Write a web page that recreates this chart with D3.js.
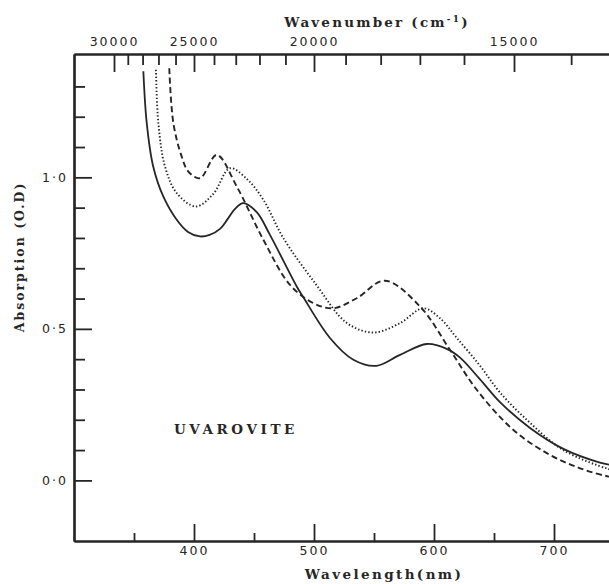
<!DOCTYPE html>
<html>
<head>
<meta charset="utf-8">
<script src="https://cdn.jsdelivr.net/npm/d3@7"></script>
<style>
  body { margin: 0; background: #fff; }
  svg { display: block; }
</style>
</head>
<body>
<div id="chart"></div>
<script>
// spectra: wavelength (nm) and absorption (O.D)
const solidWl  = [357.8, 360.6, 366, 374.4, 385.6, 395, 405, 413, 421.7, 428, 434, 441, 452.3, 463.3, 485.6, 491, 513.3, 532.8, 552, 571.7, 594, 610.6, 621.7, 638, 655, 680, 707.8, 738.3, 760];
const solidAbs = [1.35, 1.18, 1.036, 0.937, 0.86, 0.82, 0.805, 0.81, 0.83, 0.862, 0.895, 0.915, 0.885, 0.81, 0.64, 0.605, 0.47, 0.398, 0.378, 0.414, 0.45, 0.434, 0.405, 0.335, 0.258, 0.173, 0.104, 0.059, 0.042];

const dottedWl  = [368.3, 370.3, 375.8, 385.6, 401.7, 416, 430, 444, 457.8, 474.4, 502, 527.2, 549.4, 571.7, 591, 605, 619, 638, 655, 680, 707.8, 745.8, 760];
const dottedAbs = [1.355, 1.179, 1.036, 0.948, 0.904, 0.945, 1.03, 0.995, 0.926, 0.8, 0.645, 0.52, 0.488, 0.519, 0.568, 0.535, 0.47, 0.38, 0.29, 0.19, 0.1, 0.037, 0.025];

const dashedWl  = [379.4, 382.8, 389.7, 395.3, 405, 418.9, 435.6, 457.8, 480, 499.4, 515.8, 535.6, 559, 588.3, 613.3, 635.6, 666, 694, 721.7, 745.8, 760];
const dashedAbs = [1.36, 1.179, 1.069, 1.019, 0.997, 1.074, 0.97, 0.794, 0.645, 0.585, 0.568, 0.601, 0.659, 0.574, 0.431, 0.299, 0.167, 0.09, 0.04, 0.0125, 0.005];

const wlMajor = [400, 500, 600, 700];
const wlMinor = [350, 450, 550, 650, 750];
const wnMajor = [30000, 25000, 20000, 15000];
const wnMinor = [29000, 28000, 27000, 26000, 24000, 23000, 22000, 21000, 19000, 18000, 17000, 16000, 14000, 13000];
const absMajor = [0, 0.5, 1.0];
const absMinor = [0.1, 0.2, 0.3, 0.4, 0.6, 0.7, 0.8, 0.9, 1.1, 1.2, 1.3];

const W = 609, H = 584;
const ink = "#262626";
const slab = "'DejaVu Serif', serif";
const sans = "'DejaVu Sans', sans-serif";

const svg = d3.select("#chart").append("svg")
  .attr("width", W)
  .attr("height", H);

const x = d3.scaleLinear().domain([300, 800]).range([74, 674]);
const y = d3.scaleLinear().domain([-0.2, 1.407]).range([541, 54]);

const fmtAbs = d => d3.format(".1f")(d).replace(".", "·");

// bottom axis (wavelength)
svg.append("g")
  .attr("transform", "translate(0," + y(-0.2) + ")")
  .call(d3.axisBottom(x).tickValues(wlMinor).tickSizeInner(-8).tickSizeOuter(0).tickFormat(""));
svg.append("g")
  .attr("class", "lab")
  .attr("transform", "translate(0," + y(-0.2) + ")")
  .call(d3.axisBottom(x).tickValues(wlMajor).tickSizeInner(-17).tickSizeOuter(0).tickPadding(5));

// top axis (wavenumber), placed through wavelength = 1e7 / wavenumber
svg.append("g")
  .attr("transform", "translate(0," + y(1.407) + ")")
  .call(d3.axisTop(x).tickValues(wnMinor.map(d => 1e7 / d)).tickSizeInner(-11).tickSizeOuter(0).tickFormat(""));
svg.append("g")
  .attr("class", "lab")
  .attr("transform", "translate(0," + y(1.407) + ")")
  .call(d3.axisTop(x).tickValues(wnMajor.map(d => 1e7 / d)).tickSizeInner(-18).tickSizeOuter(0).tickPadding(8)
    .tickFormat(d => Math.round(1e7 / d)));

// left axis (absorption)
svg.append("g")
  .attr("transform", "translate(" + x(300) + ",0)")
  .call(d3.axisLeft(y).tickValues(absMinor).tickSizeInner(-11).tickSizeOuter(0).tickFormat(""));
svg.append("g")
  .attr("class", "lab")
  .attr("transform", "translate(" + x(300) + ",0)")
  .call(d3.axisLeft(y).tickValues(absMajor).tickSizeInner(-18).tickSizeOuter(0).tickPadding(6).tickFormat(fmtAbs));

svg.selectAll(".domain").attr("stroke", ink).attr("stroke-width", 2.2);
svg.selectAll(".tick line").attr("stroke", ink).attr("stroke-width", 1.8);
svg.selectAll(".lab text")
  .attr("fill", ink)
  .style("font-family", sans)
  .style("font-size", "12.5px")
  .style("letter-spacing", "2px");

// curves
const line = d3.line()
  .x(d => x(d[0]))
  .y(d => y(d[1]))
  .curve(d3.curveCatmullRom.alpha(0.5));

const series = [
  {wl: solidWl, abs: solidAbs, dash: null, w: 1.8},
  {wl: dottedWl, abs: dottedAbs, dash: "1.4,2.1", w: 1.9},
  {wl: dashedWl, abs: dashedAbs, dash: "6,3.5", w: 1.9}
];

series.forEach(s => {
  svg.append("path")
    .datum(s.wl.map((v, i) => [v, s.abs[i]]))
    .attr("d", line)
    .attr("fill", "none")
    .attr("stroke", ink)
    .attr("stroke-width", s.w)
    .attr("stroke-dasharray", s.dash);
});

// titles
svg.append("text")
  .attr("x", 377)
  .attr("y", 27)
  .attr("text-anchor", "middle")
  .attr("fill", ink)
  .style("font-family", slab)
  .style("font-weight", "bold")
  .style("font-size", "13.5px")
  .style("letter-spacing", "2.2px")
  .text("Wavenumber (cm")
  .append("tspan")
    .attr("dy", -5)
    .style("font-size", "9px")
    .text("-1")
  .select(function() { return this.parentNode; })
  .append("tspan")
    .attr("dy", 5)
    .text(")");

svg.append("text")
  .attr("x", 384)
  .attr("y", 579)
  .attr("text-anchor", "middle")
  .attr("fill", ink)
  .style("font-family", slab)
  .style("font-weight", "bold")
  .style("font-size", "13.5px")
  .style("letter-spacing", "2.4px")
  .text("Wavelength(nm)");

svg.append("text")
  .attr("transform", "translate(24,257) rotate(-90)")
  .attr("text-anchor", "middle")
  .attr("fill", ink)
  .style("font-family", slab)
  .style("font-weight", "bold")
  .style("font-size", "12.5px")
  .style("letter-spacing", "2px")
  .text("Absorption (O.D)");

svg.append("text")
  .attr("x", 174)
  .attr("y", 434)
  .attr("fill", ink)
  .style("font-family", slab)
  .style("font-weight", "bold")
  .style("font-size", "13.5px")
  .style("letter-spacing", "3.6px")
  .text("UVAROVITE");
</script>
</body>
</html>
